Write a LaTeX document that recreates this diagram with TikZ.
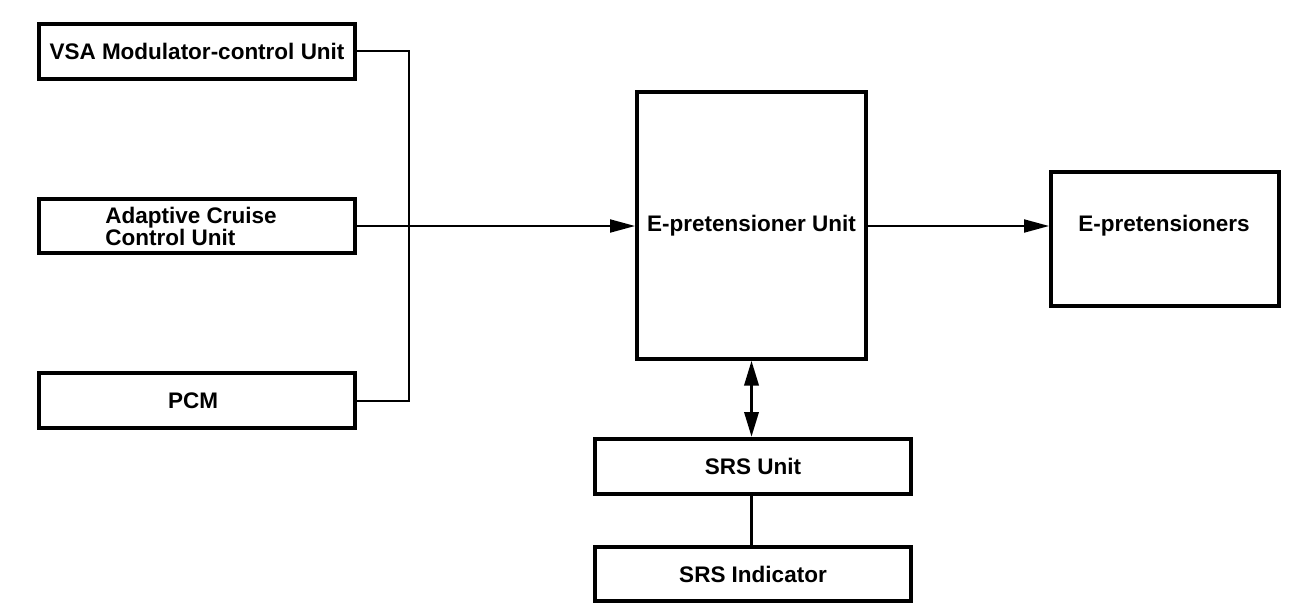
\documentclass[tikz,border=0pt]{standalone}
\usepackage{fontspec}
\setmainfont{Liberation Sans}
\usetikzlibrary{arrows.meta}
\begin{document}
\begin{tikzpicture}[x=1bp,y=-1bp,
  blk/.style={draw=black, line width=4bp, rectangle, inner sep=0pt,
    font=\fontsize{22.5bp}{22bp}\selectfont\bfseries, align=center},
  conn/.style={draw=black, line width=2bp},
  tip/.style={-{Triangle[length=25bp,width=13bp]}},
  btip/.style={{Triangle[length=25bp,width=14bp]}-{Triangle[length=25bp,width=14bp]}}
]
\useasboundingbox (0,0) rectangle (1312,612);
\node[blk, minimum width=316bp, minimum height=55bp] (vsa) at (197,51.5) {VSA Modulator-control Unit};
\node[blk, minimum width=316bp, minimum height=54bp, align=left] (acc) at (197,226) {\hspace*{-12bp}Adaptive Cruise\\\hspace*{-12bp}Control Unit\hspace*{20bp}};
\node[blk, minimum width=316bp, minimum height=55bp] (pcm) at (197,400.5) {\hspace*{-8bp}PCM};
\node[blk, minimum width=229bp, minimum height=266bp] (epu) at (751.5,225.5) {E-pretensioner Unit};
\node[blk, minimum width=228bp, minimum height=133bp] (ep) at (1165,239) {};
\node (eptext) at (1164,226) {\fontsize{22.5bp}{22bp}\selectfont\bfseries E-pretensioners};
\node[blk, minimum width=316bp, minimum height=55bp] (srs) at (753,466.5) {SRS Unit};
\node[blk, minimum width=316bp, minimum height=54bp] (ind) at (753,574) {SRS Indicator};
\coordinate (bus) at (409,226);
\draw[conn] (vsa.east) -| (bus) |- (pcm.east);
\draw[conn, tip] (acc.east) -- (acc.east -| epu.west);
\draw[conn, tip] (acc.east -| epu.east) -- (acc.east -| ep.west);
\draw[line width=3.5bp, btip] (epu.south) -- (epu.south |- srs.north);
\draw[line width=3bp] (srs.south -| epu.south) -- (ind.north -| epu.south);
\end{tikzpicture}
\end{document}
